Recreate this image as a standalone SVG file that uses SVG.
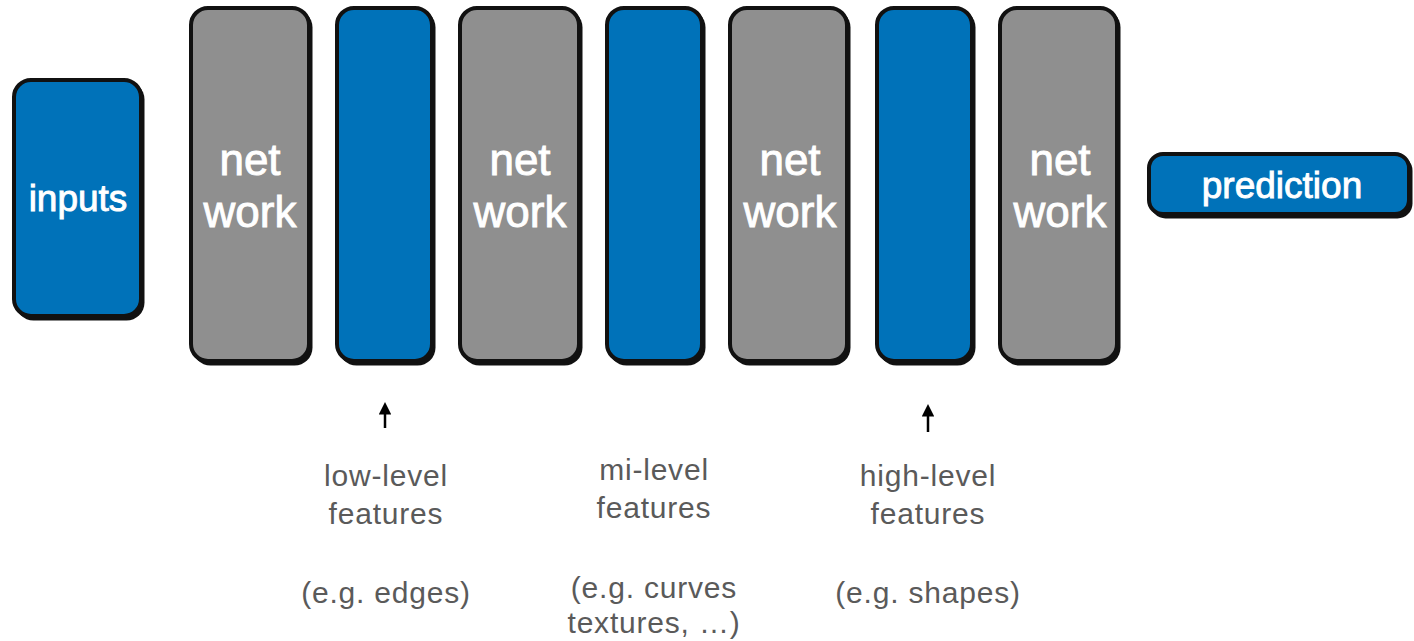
<svg xmlns="http://www.w3.org/2000/svg" width="1414" height="641" viewBox="0 0 1414 641">
  <style>
    .box { stroke: #111; stroke-width: 4; stroke-linejoin: round; }
    .shade { fill: #111; }
    .grey { fill: #8f8f8f; }
    .blue { fill: #0072b9; }
    .inner { font-family: "Liberation Sans", Arial, sans-serif; fill: #fff; stroke: #fff; stroke-width: 0.9px; text-anchor: middle; }
    .big { font-size: 44px; }
    .mid { font-size: 37px; }
    .note { font-family: "Liberation Sans", Arial, sans-serif; font-size: 30px; fill: #5a5a5a; text-anchor: middle; letter-spacing: 0.8px; }
    .conn { stroke: #000; stroke-width: 2.5; fill: none; }
  </style>
  <defs>
    <marker id="head" viewBox="0 0 10 10" refX="2" refY="5" markerWidth="5" markerHeight="5" orient="auto" markerUnits="strokeWidth">
      <path d="M0,0 L10,5 L0,10 Z" fill="#000"/>
    </marker>
  </defs>
  <rect width="1414" height="641" fill="#fff"/>

  <g id="inputs">
    <rect class="shade" x="15.5" y="81.5" width="129" height="239" rx="18"/>
    <rect class="box blue" x="14" y="80" width="127" height="236" rx="17"/>
    <text class="inner mid" x="78" y="211">inputs</text>
  </g>

  <g id="network-1">
    <rect class="shade" x="192.5" y="9.5" width="120" height="356" rx="18"/>
    <rect class="box grey" x="191" y="8" width="118" height="353" rx="17"/>
    <text class="inner big" x="250" y="175">net</text>
    <text class="inner big" x="250" y="227">work</text>
  </g>

  <g id="features-low">
    <rect class="shade" x="338.5" y="9.5" width="97" height="356" rx="18"/>
    <rect class="box blue" x="337" y="8" width="95" height="353" rx="17"/>
  </g>

  <g id="network-2">
    <rect class="shade" x="461.5" y="9.5" width="121" height="356" rx="18"/>
    <rect class="box grey" x="460" y="8" width="119" height="353" rx="17"/>
    <text class="inner big" x="520" y="175">net</text>
    <text class="inner big" x="520" y="227">work</text>
  </g>

  <g id="features-mid">
    <rect class="shade" x="608.5" y="9.5" width="97" height="356" rx="18"/>
    <rect class="box blue" x="607" y="8" width="95" height="353" rx="17"/>
  </g>

  <g id="network-3">
    <rect class="shade" x="731.5" y="9.5" width="119" height="356" rx="18"/>
    <rect class="box grey" x="730" y="8" width="117" height="353" rx="17"/>
    <text class="inner big" x="790" y="175">net</text>
    <text class="inner big" x="790" y="227">work</text>
  </g>

  <g id="features-high">
    <rect class="shade" x="878.5" y="9.5" width="97" height="356" rx="18"/>
    <rect class="box blue" x="877" y="8" width="95" height="353" rx="17"/>
  </g>

  <g id="network-4">
    <rect class="shade" x="1001.5" y="9.5" width="119" height="356" rx="18"/>
    <rect class="box grey" x="1000" y="8" width="117" height="353" rx="17"/>
    <text class="inner big" x="1060" y="175">net</text>
    <text class="inner big" x="1060" y="227">work</text>
  </g>

  <g id="prediction">
    <rect class="shade" x="1150.5" y="155.5" width="262" height="63" rx="15"/>
    <rect class="box blue" x="1149" y="154" width="260" height="60" rx="14"/>
    <text class="inner mid" x="1282" y="198">prediction</text>
  </g>

  <g id="connectors">
    <line class="conn" x1="385" y1="428" x2="385" y2="412" marker-end="url(#head)"/>
    <line class="conn" x1="928" y1="432" x2="928" y2="414" marker-end="url(#head)"/>
  </g>

  <g id="label-low">
    <text class="note" x="386" y="486">low-level</text>
    <text class="note" x="386" y="524">features</text>
    <text class="note" x="386" y="603">(e.g. edges)</text>
  </g>

  <g id="label-mid">
    <text class="note" x="654" y="480">mi-level</text>
    <text class="note" x="654" y="518">features</text>
    <text class="note" x="654" y="598">(e.g. curves</text>
    <text class="note" x="654" y="633">textures, …)</text>
  </g>

  <g id="label-high">
    <text class="note" x="928" y="486">high-level</text>
    <text class="note" x="928" y="524">features</text>
    <text class="note" x="928" y="603">(e.g. shapes)</text>
  </g>
</svg>
